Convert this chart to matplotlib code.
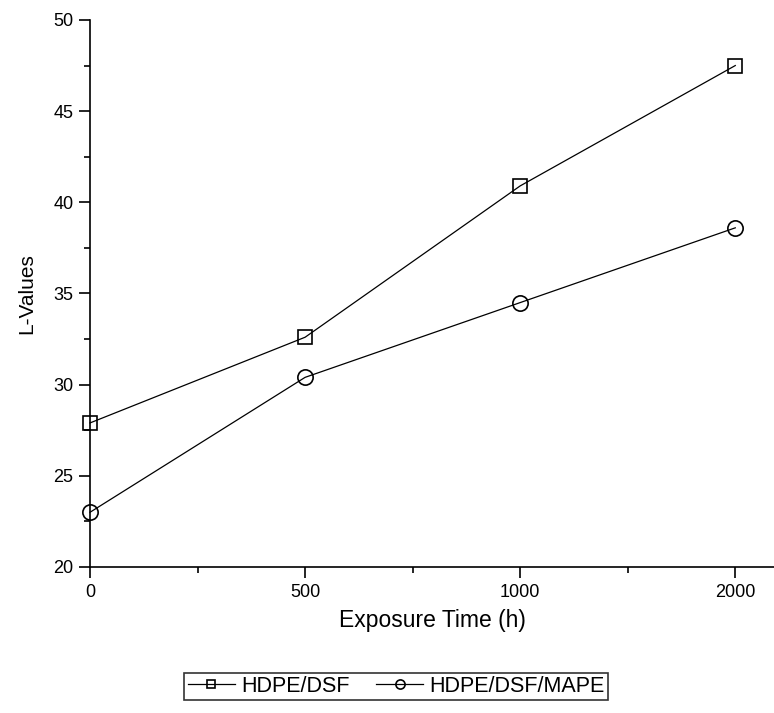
import matplotlib
matplotlib.use("Agg")
import matplotlib.pyplot as plt
from matplotlib.ticker import MultipleLocator, FixedLocator

plt.rcParams['font.family'] = ['Liberation Sans', 'DejaVu Sans']

categories = ["0", "500", "1000", "2000"]
hdpe_dsf = [27.9, 32.6, 40.9, 47.5]
hdpe_dsf_mape = [23.0, 30.4, 34.5, 38.6]

fig = plt.figure(figsize=(7.74, 7.13), dpi=100)
ax = fig.add_axes([0.1163, 0.2048, 0.8837, 0.7672])

x = list(range(len(categories)))
ax.plot(x, hdpe_dsf, color='black', lw=0.9, marker='s', ms=10.5,
        mfc='none', mec='black', mew=1.2, label='HDPE/DSF', clip_on=False)
ax.plot(x, hdpe_dsf_mape, color='black', lw=0.9, marker='o', ms=11,
        mfc='none', mec='black', mew=1.2, label='HDPE/DSF/MAPE', clip_on=False)

ax.set_xlim(0, 3.18)
ax.set_ylim(20, 50)
ax.set_xticks(x)
ax.set_xticklabels(categories)
ax.xaxis.set_minor_locator(FixedLocator([0.5, 1.5, 2.5]))
ax.yaxis.set_major_locator(MultipleLocator(5))
ax.yaxis.set_minor_locator(MultipleLocator(2.5))

for s in ['top', 'right']:
    ax.spines[s].set_visible(False)
for s in ['left', 'bottom']:
    ax.spines[s].set_linewidth(1.2)

ax.tick_params(which='major', direction='out', length=8, width=1.2, labelsize=13, pad=4)
ax.tick_params(which='minor', direction='out', length=4.5, width=1.2)

ax.set_xlabel('Exposure Time (h)', fontsize=16.5, labelpad=6)
ax.set_ylabel('L-Values', fontsize=15, labelpad=12)

leg = fig.legend(loc='lower center', bbox_to_anchor=(0.512, 0.003), ncol=2,
                 fontsize=15.5, frameon=True, fancybox=False, edgecolor='black',
                 handlelength=2.2, columnspacing=1.2, handletextpad=0.3,
                 borderpad=0.15, markerscale=0.6)
leg.get_frame().set_linewidth(1.2)

fig.savefig('out.png', dpi=100)
